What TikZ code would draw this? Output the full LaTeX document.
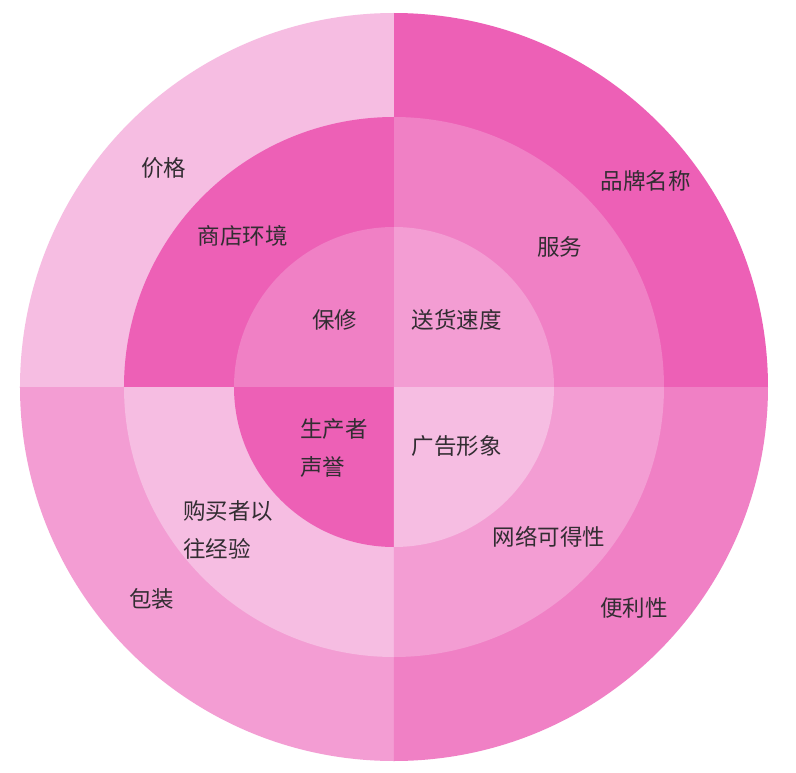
\documentclass[tikz,border=0pt]{standalone}
\usepackage{fontspec}
\setmainfont{Noto Sans CJK SC}
\definecolor{pkA}{RGB}{237,96,182}
\definecolor{pkB}{RGB}{240,128,197}
\definecolor{pkC}{RGB}{243,157,211}
\definecolor{pkD}{RGB}{246,189,226}
\definecolor{txt}{RGB}{50,45,50}
\tikzset{
  lbl/.style={font=\fontsize{22.5}{38.5}\selectfont, text=txt, inner sep=0pt, align=left},
}
\newcommand{\quadfill}[3]{% color, start angle, radius
  \fill[#1] (0,0) -- (#2:#3) arc[start angle=#2, delta angle=90, radius=#3] -- cycle;}
\begin{document}
\begin{tikzpicture}[x=1pt,y=1pt]
\useasboundingbox (-394,-385) rectangle (402,387);
\fill[white] (-394,-385) rectangle (402,387);
% outer ring
\quadfill{pkA}{0}{374}
\quadfill{pkD}{90}{374}
\quadfill{pkC}{180}{374}
\quadfill{pkB}{270}{374}
% middle ring
\quadfill{pkB}{0}{270}
\quadfill{pkA}{90}{270}
\quadfill{pkD}{180}{270}
\quadfill{pkC}{270}{270}
% inner ring
\quadfill{pkC}{0}{160}
\quadfill{pkB}{90}{160}
\quadfill{pkA}{180}{160}
\quadfill{pkD}{270}{160}
% labels
\node[lbl] (jiage) at (-230,219) {价格};
\node[lbl] (pinpai) at (252,206) {品牌名称};
\node[lbl] (shangdian) at (-151,151) {商店环境};
\node[lbl] (fuwu) at (166,140) {服务};
\node[lbl] (baoxiu) at (-59,67) {保修};
\node[lbl] (songhuo) at (63,67) {送货速度};
\node[lbl, anchor=west] (shengchan) at (-94,-61) {生产者\\声誉};
\node[lbl] (guanggao) at (63,-59) {广告形象};
\node[lbl, anchor=west] (goumai) at (-211,-143) {购买者以\\往经验};
\node[lbl] (wangluo) at (155,-150) {网络可得性};
\node[lbl] (baozhuang) at (-242,-212) {包装};
\node[lbl] (bianli) at (240,-221) {便利性};
\end{tikzpicture}
\end{document}
